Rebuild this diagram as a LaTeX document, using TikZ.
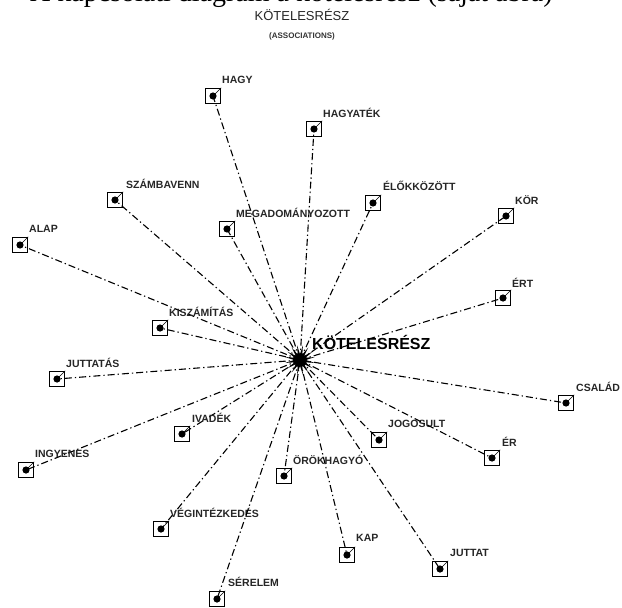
\documentclass[tikz,border=0pt]{standalone}
\usepackage{fontspec}
\setmainfont{Liberation Serif}
\setsansfont{Liberation Sans}
\usetikzlibrary{shapes.geometric}
\tikzset{
 conn/.style={line width=1.1pt, dash pattern=on 7pt off 3pt on 1.3pt off 3pt},
 wbox/.style={draw, line width=0.9pt, minimum size=15.5pt, inner sep=0},
 lbl/.style={anchor=west, font=\sffamily\bfseries\fontsize{10.5}{12}\selectfont, text=black!85, inner sep=0},
}
\begin{document}
\begin{tikzpicture}[x=1pt,y=-1pt]
\useasboundingbox (0,0) rectangle (622,608);
\node[anchor=base west, font=\rmfamily\fontsize{28}{30}\selectfont, inner sep=0] (cap) at (30,1) {A kapcsolati diagram a kötelesrész (saját ábra)};
\node[font=\sffamily\fontsize{13}{15}\selectfont, text=black!85] (title) at (302,15) {KÖTELESRÉSZ};
\node[font=\sffamily\bfseries\fontsize{8}{9}\selectfont, text=black!80] (sub) at (302,36) {(ASSOCIATIONS)};
\coordinate (hub) at (300,360);
\foreach \n/\bx/\by/\lx/\ly/\t in {
 1/213/96/222/80/HAGY,
 2/314/129/323/113/HAGYATÉK,
 3/115/200/126/184/SZÁMBAVENN,
 4/20/245/29/229/ALAP,
 5/227/229/236/213/MEGADOMÁNYOZOTT,
 6/373/203/383/186/ÉLŐKKÖZÖTT,
 7/506/216/515/200/KÖR,
 8/503/298/512/283/ÉRT,
 9/160/328/169/312/KISZÁMÍTÁS,
 10/57/379/66/363/JUTTATÁS,
 11/566/403/576/387/CSALÁD,
 12/182/434/192/418/IVADÉK,
 13/379/440/388/424/JOGOSULT,
 14/492/458/502/442/ÉR,
 15/284/476/293/460/ÖRÖKHAGYÓ,
 16/26/470/35/454/INGYENES,
 17/161/529/170/513/VÉGINTÉZKEDÉS,
 18/347/555/356/538/KAP,
 19/440/569/450/553/JUTTAT,
 20/217/599/228/582/SÉRELEM}{
  \node[wbox] (b\n) at (\bx,\by) {};
  \draw[conn] (hub) -- (b\n.center);
  \fill (b\n.center) circle (3.6pt);
  \draw[line width=0.5pt] (b\n.center) -- (b\n.north east);
  \node[lbl] (l\n) at (\lx,\ly) {\t};
}
\node[star, star points=16, star point ratio=0.4, fill, minimum size=12pt, inner sep=0] (hubstar) at (hub) {};
\node[anchor=west, font=\sffamily\bfseries\fontsize{16}{18}\selectfont, inner sep=0] (hublbl) at (312,342) {KÖTELESRÉSZ};
\end{tikzpicture}
\end{document}
